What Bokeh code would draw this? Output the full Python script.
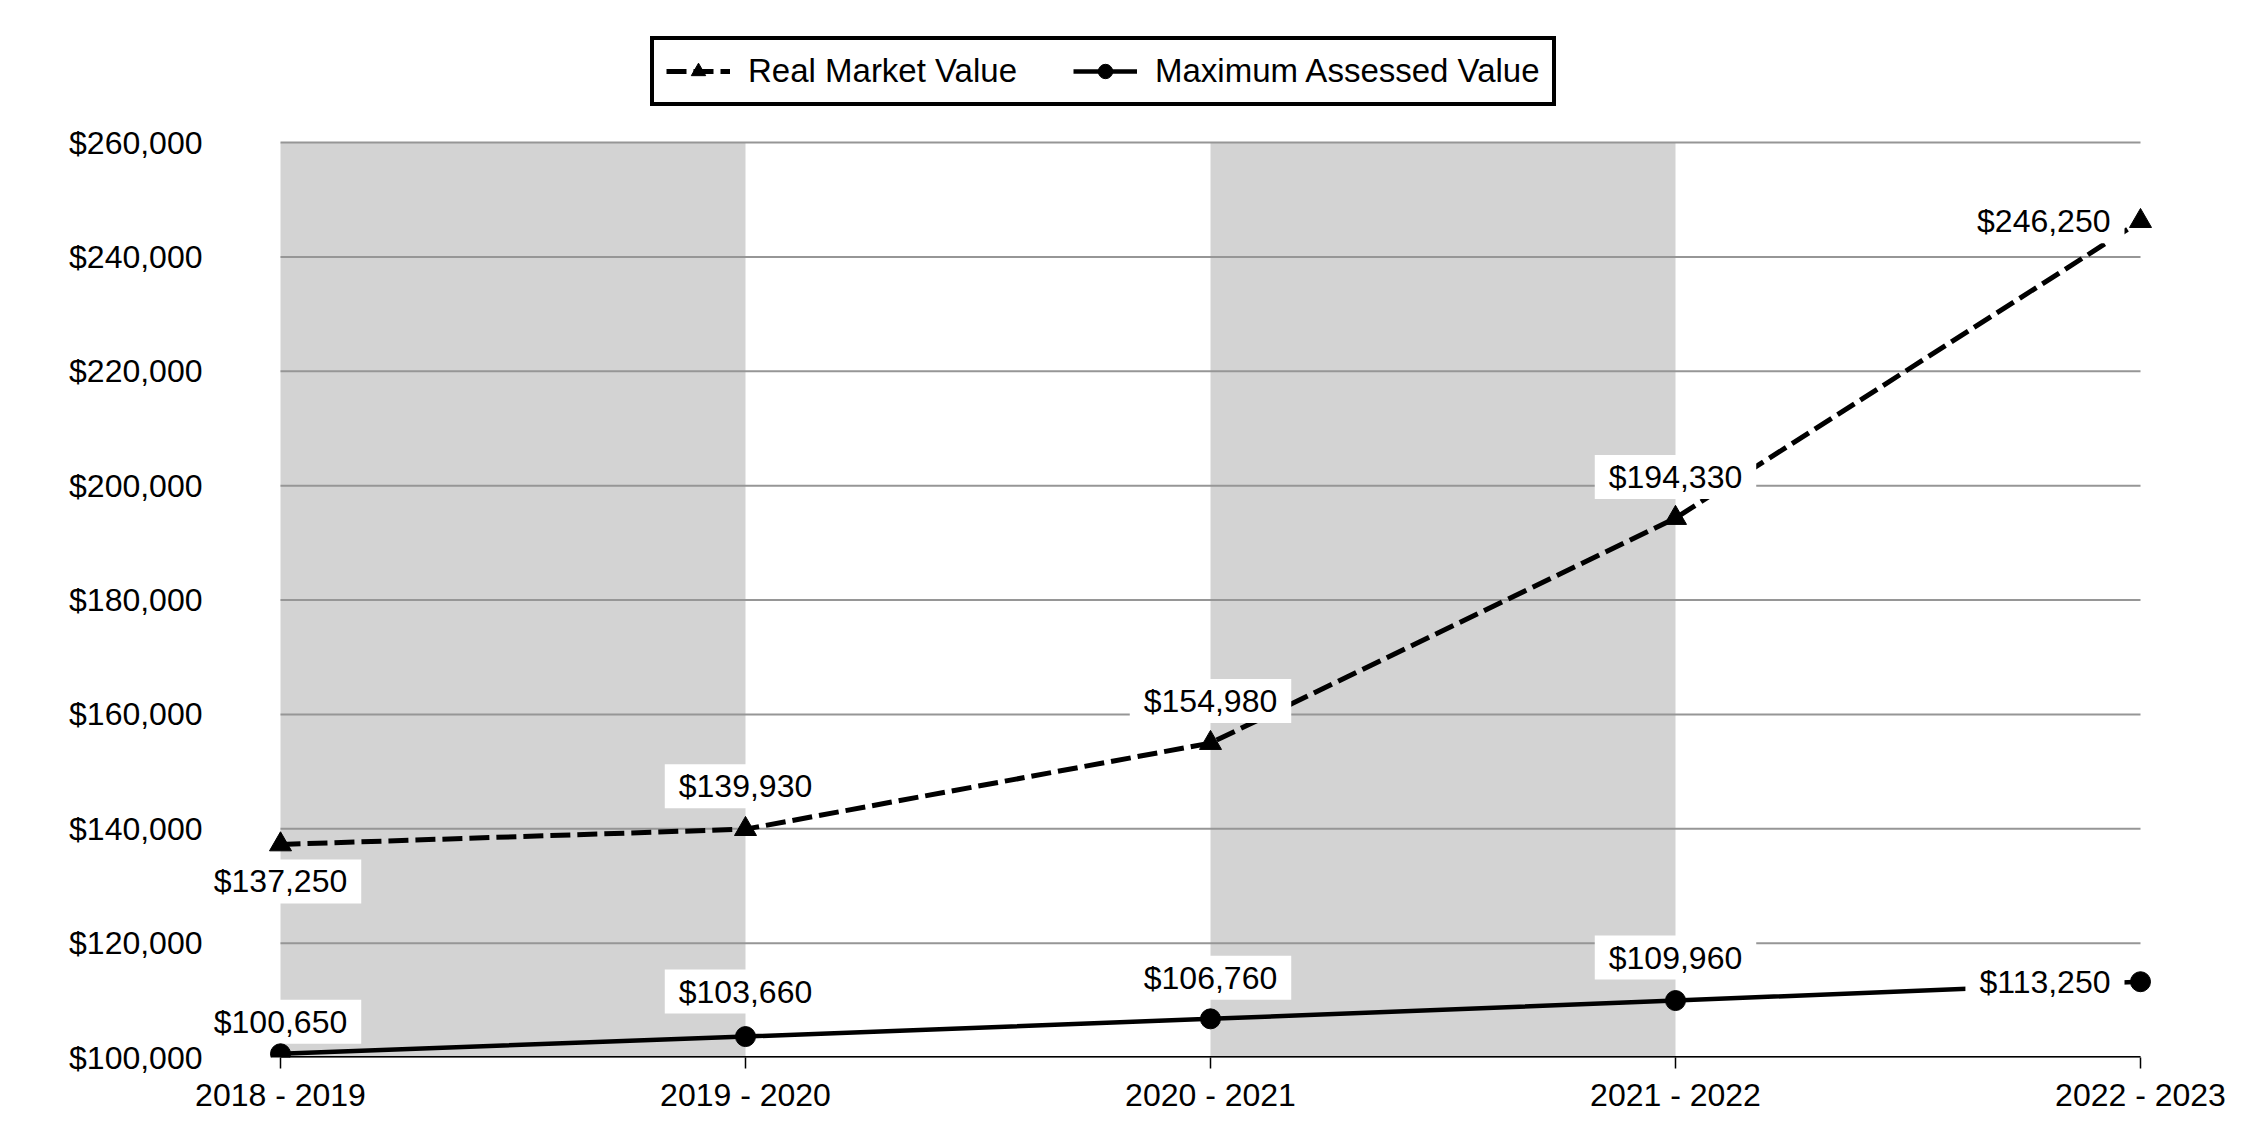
from bokeh.plotting import figure
from bokeh.models import (ColumnDataSource, Range1d, FixedTicker, NumeralTickFormatter,
                          Legend, LegendItem)
from bokeh.core.properties import value
from bokeh.embed import file_html
from bokeh.resources import INLINE

# ---------------- data ----------------
categories = ["2018 - 2019", "2019 - 2020", "2020 - 2021", "2021 - 2022", "2022 - 2023"]
real_market_value = [137250, 139930, 154980, 194330, 246250]
max_assessed_value = [100650, 103660, 106760, 109960, 113250]
y_ticks = [100000, 120000, 140000, 160000, 180000, 200000, 220000, 240000, 260000]
band_start = [0, 2]   # shaded periods (category index)
band_end = [1, 3]

# ---------------- layout (pixels) ----------------
FONT = value("Liberation Sans")
FS = "32px"
W, H = 2234, 1124
FRAME_L, FRAME_R, FRAME_T, FRAME_B = 206, 2165, 28, 1057   # drawing frame
CAT0_PX, CATN_PX = 280, 2140                               # first / last category
YTOP_PX = 142                                              # top gridline

xs = list(range(len(categories)))
px_per_x = (CATN_PX - CAT0_PX) / (xs[-1] - xs[0])
px_per_y = (FRAME_B - YTOP_PX) / (y_ticks[-1] - y_ticks[0])
x_start = xs[0] - (CAT0_PX - FRAME_L) / px_per_x
x_end = xs[-1] + (FRAME_R - CATN_PX) / px_per_x
y_end = y_ticks[-1] + (YTOP_PX - FRAME_T) / px_per_y

p = figure(width=W, height=H, output_backend="svg", toolbar_location=None,
           x_range=Range1d(x_start, x_end), y_range=Range1d(y_ticks[0], y_end),
           min_border_left=FRAME_L, min_border_right=W - FRAME_R,
           min_border_top=FRAME_T, min_border_bottom=H - FRAME_B)
p.outline_line_color = None
p.background_fill_color = "white"
p.border_fill_color = "white"

# shaded bands
p.quad(left=band_start, right=band_end, bottom=[y_ticks[0]] * len(band_start),
       top=[y_ticks[-1]] * len(band_start), fill_color="#d3d3d3", line_color=None,
       level="image")

# horizontal gridlines spanning only the category extent
p.xgrid.grid_line_color = None
p.ygrid.grid_line_color = None
p.segment(x0=[xs[0]] * len(y_ticks), x1=[xs[-1]] * len(y_ticks), y0=y_ticks, y1=y_ticks,
          line_color="#969696", line_width=2, level="underlay")

# axes
p.xaxis.ticker = FixedTicker(ticks=xs)
p.xaxis.major_label_overrides = {i: c for i, c in enumerate(categories)}
p.xaxis.axis_line_color = None
p.xaxis.major_tick_line_color = "black"
p.xaxis.major_tick_line_width = 1.5
p.xaxis.major_tick_out = 11
p.xaxis.major_tick_in = 0
p.xaxis.minor_tick_line_color = None
p.xaxis.major_label_standoff = 8

p.yaxis.ticker = FixedTicker(ticks=y_ticks)
p.yaxis.formatter = NumeralTickFormatter(format="$0,0")
p.yaxis.axis_line_color = None
p.yaxis.major_tick_line_color = None
p.yaxis.minor_tick_line_color = None
p.yaxis.major_tick_out = 0
p.yaxis.major_tick_in = 0
p.yaxis.major_label_standoff = 4

for ax in (p.xaxis[0], p.yaxis[0]):
    ax.major_label_text_font = "Liberation Sans"
    ax.major_label_text_font_size = FS
    ax.major_label_text_color = "black"

# lines
rmv_line = p.line(xs, real_market_value, line_color="black", line_width=5, line_dash="20 7")
mav_line = p.line(xs, max_assessed_value, line_color="black", line_width=4.5)

# x axis baseline across the category extent
p.segment(x0=[xs[0]], x1=[xs[-1]], y0=[y_ticks[0]], y1=[y_ticks[0]],
          line_color="black", line_width=3)

# data labels (white boxes over the lines)
rmv_dx = [0, 0, 0, 0, -16]
rmv_dy = [37, -43, -42, -41, 0]
mav_dx = [0, 0, 0, 0, -16]
mav_dy = [-32, -45, -41, -43, 0]
aligns = ["center", "center", "center", "center", "right"]

lab_src = ColumnDataSource(dict(
    x=xs + xs,
    y=real_market_value + max_assessed_value,
    text=[f"${v:,}" for v in real_market_value] + [f"${v:,}" for v in max_assessed_value],
    dx=rmv_dx + mav_dx,
    dy=rmv_dy + mav_dy,
    align=aligns + aligns,
))
p.text(x="x", y="y", text="text", x_offset="dx", y_offset="dy", text_align="align",
       text_baseline="middle", text_font=FONT, text_font_size=FS, text_color="black",
       background_fill_color="white", padding=(14, 4), source=lab_src)

# markers
rmv_pts = p.scatter(xs, real_market_value, marker="triangle", size=22, fill_color="black",
                    line_color="black")
mav_pts = p.scatter(xs, max_assessed_value, marker="circle", size=20, fill_color="black",
                    line_color="black")

legend = Legend(items=[LegendItem(label="Real Market Value", renderers=[rmv_line, rmv_pts]),
                       LegendItem(label="Maximum Assessed Value", renderers=[mav_line, mav_pts])],
                orientation="horizontal", location=(650 - FRAME_L, FRAME_B - 106),
                label_text_font="Liberation Sans", label_text_font_size="33px",
                label_text_color="black",
                glyph_width=64, glyph_height=36, label_height=30,
                label_standoff=18, spacing=56, padding=12, margin=0,
                border_line_color="black", border_line_width=4, border_line_alpha=1.0,
                background_fill_color="white", background_fill_alpha=1.0)
p.add_layout(legend, "center")

open("out.html", "w").write(file_html(p, INLINE))
